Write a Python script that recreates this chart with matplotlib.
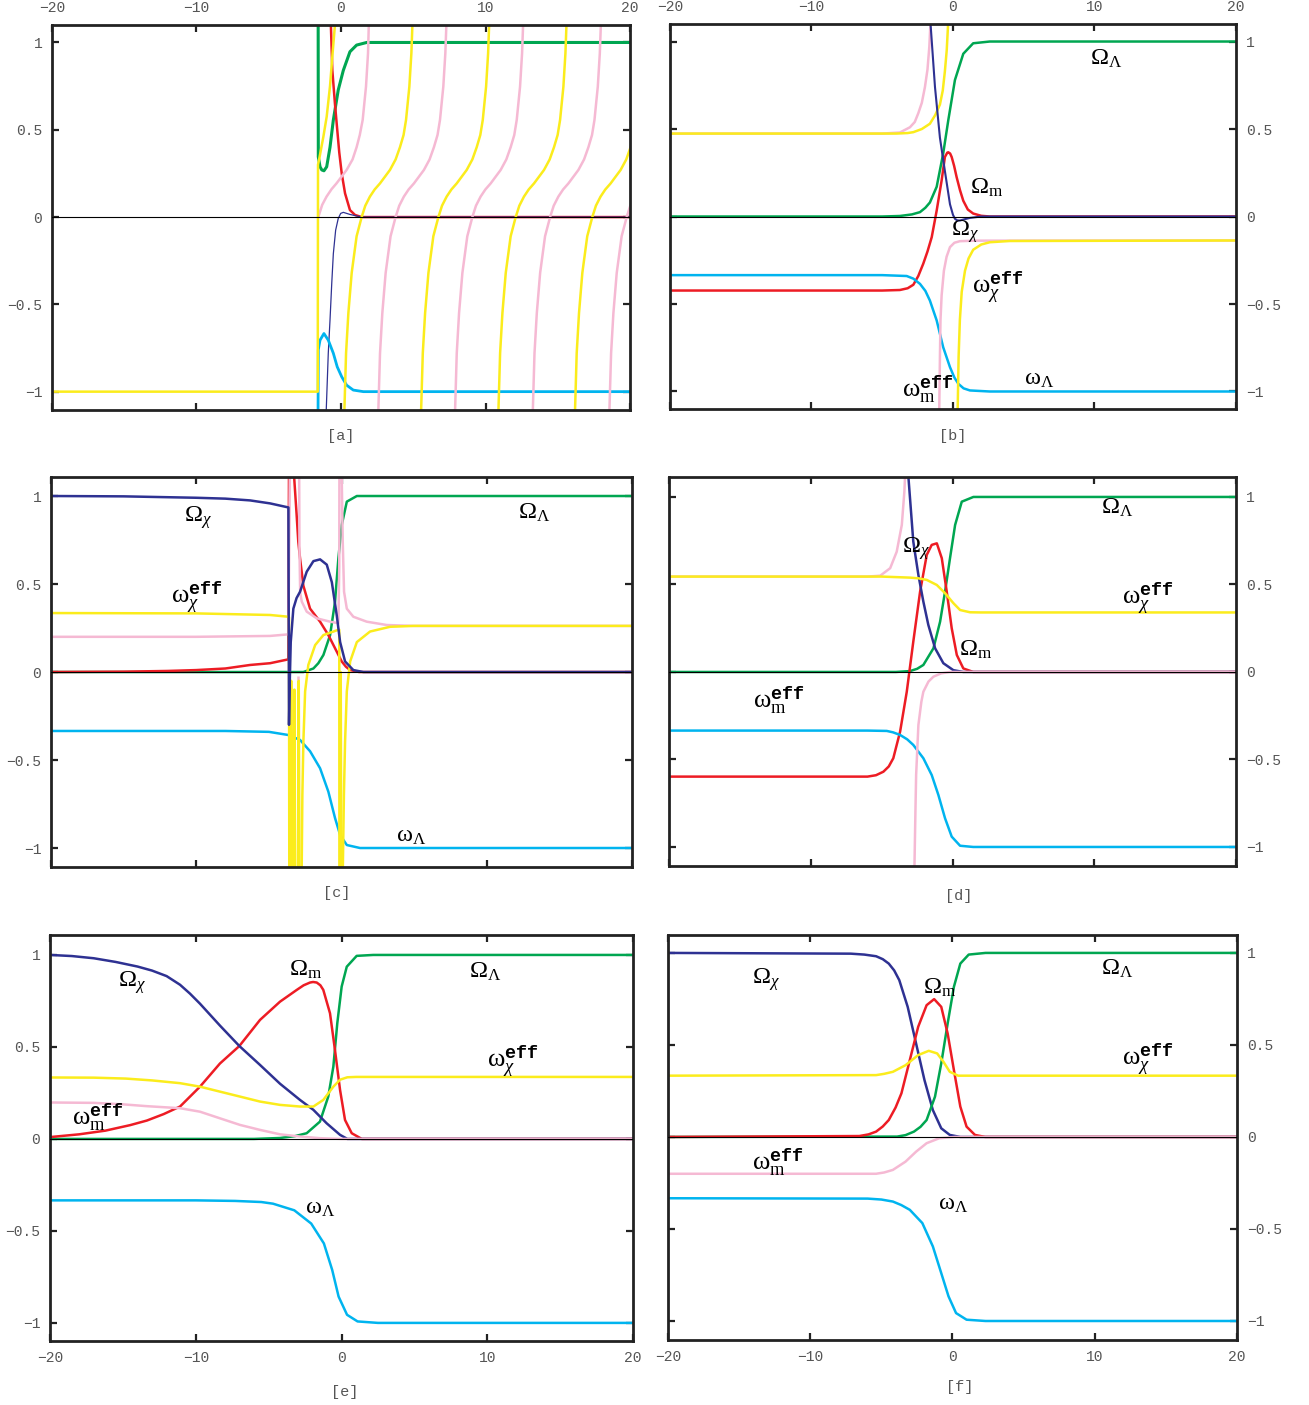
import numpy as np
import matplotlib
matplotlib.use("Agg")
import matplotlib.pyplot as plt

plt.rcParams["font.family"] = ["Liberation Serif", "DejaVu Serif"]
plt.rcParams["mathtext.fontset"] = "custom"
plt.rcParams["mathtext.rm"] = "Liberation Serif"
plt.rcParams["mathtext.it"] = "Liberation Serif:italic"
plt.rcParams["mathtext.bf"] = "Liberation Serif:bold"
plt.rcParams["mathtext.tt"] = "Liberation Mono:bold"

GREEN = "#00a651"
RED = "#ed1c24"
NAVY = "#2e3192"
CYAN = "#00b4ef"
YELLOW = "#fbec1c"
PINK = "#f5b9d3"
MONO = ["Liberation Mono", "DejaVu Sans Mono"]

# ---------------- panel a ----------------
a_green_x = [-1.58, -1.57, -1.45, -1.33, -1.18, -0.99, -0.76, -0.53, -0.19, 0.16, 0.62, 1.08, 1.78, 20]
a_green_y = [1.15, 0.345, 0.288, 0.27, 0.265, 0.288, 0.40, 0.556, 0.728, 0.84, 0.947, 0.985, 1.0, 1.0]
a_red_x = [-0.72, -0.6, -0.42, -0.26, -0.12, 0.05, 0.28, 0.62, 0.97, 1.43, 20]
a_red_y = [1.15, 0.842, 0.65, 0.5, 0.37, 0.25, 0.136, 0.04, 0.012, 0.0, 0.0]
a_navy_x = [-1.04, -0.88, -0.76, -0.64, -0.53, -0.37, -0.19, -0.02, 0.16, 0.62, 1.43, 20]
a_navy_y = [-1.15, -0.78, -0.59, -0.38, -0.21, -0.075, -0.008, 0.021, 0.027, 0.015, 0.0, 0.0]
a_cyan_x = [-1.59, -1.57, -1.45, -1.18, -0.88, -0.53, -0.26, 0.05, 0.39, 0.85, 1.55, 20]
a_cyan_y = [-1.15, -0.76, -0.705, -0.667, -0.705, -0.78, -0.858, -0.915, -0.963, -0.991, -1.0, -1.0]
a_yellow0_x = [-20, -1.61, -1.59, -1.5, -1.22, -0.99, -0.76, -0.58, -0.42]
a_yellow0_y = [-1.0, -1.0, 0.30, 0.336, 0.46, 0.575, 0.75, 0.94, 1.1]
a_pink0_x = [-1.57, -1.3, -1.0, -0.65, -0.31, 0.39, 0.8, 1.08, 1.3, 1.5, 1.73, 1.87, 1.93]
a_pink0_y = [0.0, 0.07, 0.117, 0.16, 0.193, 0.27, 0.33, 0.40, 0.47, 0.556, 0.747, 0.938, 1.12]
# one tan-like branch (offset from where it leaves the bottom)
branch_dx = [0, 0.12, 0.28, 0.51, 0.85, 1.2, 1.45, 1.77, 2.1, 2.47, 3.16, 3.55, 3.85, 4.1, 4.27,
             4.5, 4.64, 4.72]
branch_y = [-1.12, -0.78, -0.55, -0.32, -0.11, 0.0, 0.065, 0.117, 0.158, 0.193, 0.27, 0.33, 0.40,
            0.47, 0.556, 0.747, 0.938, 1.12]
a_yellow_starts = [0.23, 5.54, 10.89, 16.19]
a_pink_starts = [2.58, 7.89, 13.27, 18.57]

# ---------------- panel b ----------------
b_green_x = [-20, -5, -3.75, -2.9, -2.33, -1.95, -1.63, -1.15, -0.69, -0.33, 0.14, 0.73, 1.43, 2.6, 20]
b_green_y = [0, 0, 0.003, 0.012, 0.025, 0.05, 0.08, 0.17, 0.36, 0.55, 0.78, 0.93, 0.99, 1.0, 1.0]
b_red_x = [-20, -5, -3.75, -3.2, -2.8, -2.45, -2.1, -1.8, -1.5, -1.15, -0.8, -0.57, -0.4, -0.33,
           -0.2, -0.09, 0.08, 0.26, 0.5, 0.73, 1.05, 1.43, 2.0, 2.6, 20]
b_red_y = [-0.423, -0.423, -0.42, -0.41, -0.39, -0.34, -0.27, -0.2, -0.118, 0.034, 0.206, 0.34, 0.365,
           0.367, 0.36, 0.34, 0.29, 0.225, 0.15, 0.09, 0.04, 0.017, 0.004, 0, 0]
b_navy_x = [-1.6, -1.27, -0.92, -0.57, -0.21, 0.0, 0.14, 0.3, 0.49, 0.8, 1.2, 2.0, 20]
b_navy_y = [1.12, 0.74, 0.45, 0.26, 0.07, 0.01, -0.013, -0.022, -0.023, -0.016, -0.008, 0.0, 0.0]
b_cyan_x = [-20, -5, -3.27, -2.8, -2.33, -1.95, -1.63, -1.15, -0.69, -0.21, 0.1, 0.38, 0.75, 1.2, 2.6, 20]
b_cyan_y = [-0.335, -0.335, -0.34, -0.355, -0.385, -0.425, -0.48, -0.594, -0.747, -0.861, -0.92,
            -0.956, -0.982, -0.994, -1.0, -1.0]
b_yellow1_x = [-20, -4, -3.2, -2.8, -2.2, -1.63, -1.25, -0.92, -0.72, -0.57, -0.44, -0.33]
b_yellow1_y = [0.474, 0.474, 0.477, 0.482, 0.5, 0.53, 0.58, 0.64, 0.72, 0.83, 0.95, 1.12]
b_yellow2_x = [0.33, 0.4, 0.49, 0.62, 0.85, 1.1, 1.43, 2.0, 2.61, 4.0, 20]
b_yellow2_y = [-1.12, -0.8, -0.59, -0.43, -0.31, -0.24, -0.19, -0.16, -0.147, -0.14, -0.137]
b_pink1_x = [-20, -5, -3.75, -3.04, -2.7, -2.45, -2.2, -1.98, -1.8, -1.67, -1.58]
b_pink1_y = [0.474, 0.474, 0.48, 0.51, 0.54, 0.59, 0.65, 0.74, 0.84, 0.97, 1.12]
b_pink2_x = [-0.97, -0.92, -0.88, -0.8, -0.64, -0.45, -0.21, 0.1, 0.49, 1.5, 20]
b_pink2_y = [-1.12, -0.8, -0.59, -0.45, -0.31, -0.23, -0.175, -0.15, -0.141, -0.138, -0.137]

# ---------------- panel c ----------------
c_navy_x = [-20, -15, -10, -8, -6.3, -4.92, -3.66, -3.62, -3.58, -3.5, -3.32, -3.1, -2.86, -2.4,
            -1.94, -1.48, -1.02, -0.67, -0.33, -0.1, 0.24, 0.81, 1.5, 20]
c_navy_y = [1.0, 0.998, 0.99, 0.985, 0.975, 0.958, 0.935, -0.30, -0.1, 0.17, 0.36, 0.42, 0.456, 0.57,
            0.63, 0.64, 0.61, 0.51, 0.32, 0.17, 0.06, 0.011, 0.0, 0.0]
c_red1_x = [-20, -15, -12, -10, -8, -6.3, -4.92, -3.66, -3.62]
c_red1_y = [0.0, 0.002, 0.006, 0.011, 0.02, 0.04, 0.05, 0.072, 1.15]
c_red2_x = [-3.3, -3.1, -2.98, -2.86, -2.63, -2.17, -1.48, -0.91, -0.45, 0.01, 0.3, 0.59, 1.2, 20]
c_red2_y = [1.15, 0.9, 0.74, 0.646, 0.49, 0.36, 0.286, 0.21, 0.135, 0.06, 0.03, 0.011, 0.0, 0.0]
c_green_x = [-20, -3, -2.63, -1.94, -1.6, -1.25, -0.79, -0.45, -0.22, 0.01, 0.36, 1.05, 20]
c_green_y = [0, 0, 0.0, 0.02, 0.05, 0.097, 0.21, 0.40, 0.646, 0.835, 0.968, 1.0, 1.0]
c_cyan_x = [-20, -8, -5, -3.66, -2.86, -2.17, -1.48, -0.91, -0.45, -0.1, 0.36, 1.27, 20]
c_cyan_y = [-0.335, -0.335, -0.34, -0.358, -0.386, -0.45, -0.547, -0.68, -0.83, -0.926, -0.983, -1.0, -1.0]
c_yellow1_x = [-20, -10, -4.92, -3.66, -3.62, -3.6]
c_yellow1_y = [0.335, 0.333, 0.324, 0.314, 0.31, -1.15]
c_yellow_spk_x = [-3.5, -3.47, -3.42, -3.3, -3.25, -3.2, -3.0, -2.95, -2.9]
c_yellow_spk_y = [-1.15, -0.05, -1.15, -1.15, -0.1, -1.15, -1.15, -0.05, -1.15]
c_yellow2_x = [-2.75, -2.7, -2.63, -2.51, -2.29, -1.82, -1.25, -0.56, -0.22, -0.16, -0.15]
c_yellow2_y = [-1.15, -0.7, -0.396, -0.11, 0.04, 0.153, 0.21, 0.23, 0.24, 0.24, -1.15]
c_yellow3_x = [-0.1, -0.06, -0.02]
c_yellow3_y = [-1.15, 0.0, -1.15]
c_yellow4_x = [0.08, 0.16, 0.24, 0.36, 0.59, 1.05, 1.96, 3.34, 5, 20]
c_yellow4_y = [-1.15, -0.7, -0.396, -0.11, 0.06, 0.17, 0.23, 0.257, 0.262, 0.262]
c_pink1_x = [-20, -10, -4.92, -3.66, -3.56]
c_pink1_y = [0.2, 0.2, 0.205, 0.214, 1.15]
c_pink_spk_x = [-3.56, -3.55]
c_pink_spk_y = [-1.15, -0.7]
c_pink_spk2_x = [-3.0, -3.0]
c_pink_spk2_y = [-0.02, -0.26]
c_pink2_x = [-2.92, -2.9, -2.85, -2.74, -2.4, -1.71, -0.79, -0.22, -0.16, -0.15]
c_pink2_y = [1.15, 0.7, 0.45, 0.40, 0.343, 0.305, 0.286, 0.277, 0.6, 1.15]
c_pink3_x = [0.0, 0.05, 0.08, 0.17, 0.36, 0.81, 1.73, 3.11, 5, 20]
c_pink3_y = [1.15, 0.9, 0.74, 0.456, 0.36, 0.314, 0.286, 0.267, 0.262, 0.262]

# ---------------- panel d ----------------
d_yellow_x = [-20, -5, -3.0, -2.4, -1.82, -1.11, -0.53, 0.06, 0.53, 1.23, 2, 20]
d_yellow_y = [0.545, 0.545, 0.539, 0.535, 0.526, 0.497, 0.45, 0.393, 0.354, 0.341, 0.34, 0.34]
d_pink1_x = [-20, -6, -5.1, -4.4, -3.94, -3.58, -3.4, -3.35]
d_pink1_y = [0.545, 0.545, 0.55, 0.593, 0.687, 0.84, 1.03, 1.12]
d_pink2_x = [-2.69, -2.62, -2.57, -2.41, -2.2, -2.06, -1.7, -1.35, -0.8, -0.18, 20]
d_pink2_y = [-1.12, -0.8, -0.589, -0.303, -0.17, -0.113, -0.055, -0.027, -0.008, 0.0, 0.0]
d_navy_x = [-3.12, -2.77, -2.41, -2.06, -1.71, -1.23, -0.65, 0.06, 0.76, 20]
d_navy_y = [1.12, 0.745, 0.554, 0.402, 0.269, 0.135, 0.05, 0.01, 0.0, 0.0]
d_red_x = [-20, -6, -5.4, -4.88, -4.5, -4.18, -3.7, -3.23, -2.77, -2.29, -1.82, -1.47, -1.11, -0.76,
           -0.41, -0.06, 0.3, 0.76, 1.46, 20]
d_red_y = [-0.598, -0.598, -0.59, -0.57, -0.54, -0.493, -0.341, -0.113, 0.173, 0.459, 0.669, 0.726,
           0.735, 0.65, 0.459, 0.25, 0.097, 0.02, 0.0, 0.0]
d_green_x = [-20, -4, -3.0, -2.5, -2.06, -1.35, -0.88, -0.53, -0.18, 0.18, 0.65, 1.47, 20]
d_green_y = [0, 0, 0.005, 0.018, 0.04, 0.135, 0.287, 0.459, 0.65, 0.84, 0.973, 1.0, 1.0]
d_cyan_x = [-20, -6, -4.64, -4.2, -3.7, -3.2, -2.77, -2.06, -1.47, -1.0, -0.53, -0.06, 0.53, 1.46, 20]
d_cyan_y = [-0.335, -0.335, -0.337, -0.345, -0.36, -0.385, -0.417, -0.493, -0.589, -0.703, -0.836,
            -0.941, -0.993, -1.0, -1.0]

# ---------------- panel e ----------------
e_navy_x = [-20, -18.5, -17, -15.5, -14, -13, -12, -11.08, -10.4, -9.71, -8.34, -7.01, -5.59, -4.22,
            -2.85, -1.93, -1.02, -0.1, 0.4, 20]
e_navy_y = [1.0, 0.994, 0.982, 0.962, 0.937, 0.915, 0.885, 0.838, 0.79, 0.735, 0.616, 0.505, 0.402,
            0.30, 0.212, 0.158, 0.085, 0.022, 0.0, 0.0]
e_red_x = [-20, -18, -16.2, -14.5, -13.35, -12.2, -11.08, -9.71, -8.34, -7.01, -5.59, -4.22, -3.07,
           -2.6, -2.16, -1.95, -1.7, -1.45, -1.25, -0.79, -0.45, -0.1, 0.24, 0.7, 1.39, 20]
e_red_y = [0.01, 0.025, 0.045, 0.075, 0.10, 0.135, 0.176, 0.284, 0.41, 0.505, 0.647, 0.746, 0.81,
           0.835, 0.85, 0.853, 0.85, 0.835, 0.81, 0.683, 0.484, 0.266, 0.103, 0.031, 0.0, 0.0]
e_green_x = [-20, -6, -4.22, -3.2, -2.39, -1.48, -0.91, -0.56, -0.29, 0.01, 0.36, 1.04, 2.18, 20]
e_green_y = [0, 0, 0.005, 0.015, 0.031, 0.094, 0.23, 0.393, 0.629, 0.828, 0.936, 0.995, 1.0, 1.0]
e_yellow_x = [-20, -17, -14.8, -13, -11.08, -9.71, -8.34, -6.96, -5.59, -4.22, -2.85, -1.93, -1.25,
              -0.56, -0.1, 0.4, 1.0, 20]
e_yellow_y = [0.334, 0.333, 0.328, 0.318, 0.303, 0.284, 0.257, 0.23, 0.203, 0.185, 0.176, 0.176,
              0.212, 0.284, 0.322, 0.335, 0.337, 0.337]
e_pink_x = [-20, -17, -15, -13.35, -11.08, -9.71, -8.34, -6.96, -5.59, -4.22, -2.85, -1.48, 0, 20]
e_pink_y = [0.198, 0.196, 0.188, 0.178, 0.167, 0.148, 0.112, 0.076, 0.049, 0.025, 0.013, 0.004, 0, 0]
e_cyan_x = [-20, -10, -7.3, -5.5, -4.7, -3.24, -2.08, -1.21, -0.64, -0.2, 0.38, 1.1, 2.5, 20]
e_cyan_y = [-0.334, -0.334, -0.337, -0.343, -0.352, -0.388, -0.46, -0.568, -0.712, -0.857, -0.956,
            -0.992, -1.0, -1.0]

# ---------------- panel f ----------------
f_navy_x = [-20, -7.15, -6.2, -5.37, -4.9, -4.48, -4.1, -3.74, -3.15, -2.56, -1.97, -1.38, -0.79,
            -0.19, 0.55, 20]
f_navy_y = [1.0, 0.996, 0.991, 0.982, 0.966, 0.942, 0.905, 0.852, 0.707, 0.508, 0.309, 0.146, 0.047,
            0.011, 0.0, 0.0]
f_red_x = [-20, -6.55, -5.9, -5.37, -4.9, -4.48, -4.0, -3.59, -3.0, -2.41, -1.82, -1.29, -0.79,
           -0.34, 0.1, 0.55, 0.99, 1.58, 2.3, 20]
f_red_y = [0, 0.005, 0.014, 0.029, 0.057, 0.092, 0.16, 0.237, 0.418, 0.599, 0.716, 0.749, 0.707,
           0.562, 0.363, 0.165, 0.056, 0.011, 0, 0]
f_green_x = [-20, -3.89, -3.3, -2.71, -2.25, -1.82, -1.23, -0.79, -0.34, 0.1, 0.55, 1.14, 2.32, 20]
f_green_y = [0, 0.002, 0.01, 0.029, 0.055, 0.092, 0.219, 0.40, 0.617, 0.816, 0.942, 0.991, 1.0, 1.0]
f_yellow_x = [-20, -5.37, -4.8, -4.19, -3.3, -2.41, -1.67, -1.08, -0.64, -0.19, 0.4, 20]
f_yellow_y = [0.333, 0.336, 0.343, 0.354, 0.39, 0.445, 0.468, 0.454, 0.409, 0.354, 0.333, 0.333]
f_pink_x = [-20, -5.37, -4.8, -4.19, -3.3, -2.56, -1.82, -0.93, 0.2, 20]
f_pink_y = [-0.2, -0.2, -0.193, -0.179, -0.134, -0.08, -0.034, -0.007, 0, 0]
f_cyan_x = [-20, -5.96, -5.0, -4.19, -3.6, -3.0, -2.12, -1.38, -0.79, -0.28, 0.25, 0.99, 2.32, 20]
f_cyan_y = [-0.333, -0.335, -0.34, -0.351, -0.37, -0.396, -0.468, -0.595, -0.74, -0.866, -0.957,
            -0.993, -1.0, -1.0]

x_ticks = [-20, -10, 0, 10, 20]
x_tick_labels = ["\u221220", "\u221210", "0", "10", "20"]
y_ticks = [-1, -0.5, 0, 0.5, 1]
y_tick_labels = ["\u22121", "\u22120.5", "0", "0.5", "1"]

fig = plt.figure(figsize=(13.09, 14.05), dpi=100)

# [left, bottom, width, height], which side carries labels, caption position, y range
panels = {
    "a": ([0.0397, 0.7082, 0.4416, 0.2740], "top", "left", (0.50, -0.068), (-1.105, 1.10)),
    "b": ([0.5118, 0.7089, 0.4324, 0.2740], "top", "right", (0.50, -0.07), (-1.10, 1.10)),
    "c": ([0.0390, 0.3829, 0.4439, 0.2776], None, "left", (0.492, -0.067), (-1.108, 1.108)),
    "d": ([0.5111, 0.3836, 0.4332, 0.2769], None, "right", (0.51, -0.077), (-1.109, 1.114)),
    "e": ([0.0382, 0.0456, 0.4454, 0.2890], "bottom", "left", (0.506, -0.126), (-1.098, 1.109)),
    "f": ([0.5103, 0.0463, 0.4347, 0.2883], "bottom", "right", (0.513, -0.116), (-1.103, 1.098)),
}

axes = {}
for name, (rect, xside, yside, cap, ylim) in panels.items():
    ax = fig.add_axes(rect)
    ax.set_xlim(-20, 20)
    ax.set_ylim(*ylim)
    ax.set_xticks(x_ticks)
    ax.set_yticks(y_ticks)
    ax.tick_params(direction="in", length=5, width=1.6, top=True, bottom=True, left=True, right=True,
                   labeltop=(xside == "top"), labelbottom=(xside == "bottom"),
                   labelleft=(yside == "left"), labelright=(yside == "right"),
                   pad=7, labelsize=10.5)
    ax.tick_params(colors="#222222", which="both", labelcolor="#555555")
    ax.set_xticklabels(x_tick_labels, family=MONO)
    ax.set_yticklabels(y_tick_labels, family=MONO)
    for s in ax.spines.values():
        s.set_linewidth(2.0)
        s.set_color("#222222")
    ax.text(cap[0], cap[1], "[" + name + "]", transform=ax.transAxes, ha="center", va="center",
            family=MONO, fontsize=11, color="#555555")
    axes[name] = ax

LW = 1.8


def curve(ax, x, y, color, lw=LW, z=2):
    ax.plot(x, y, color=color, lw=lw, zorder=z, solid_capstyle="butt", solid_joinstyle="round")


def label(ax, x, y, sym, sub, eff=False):
    # (x, y): left edge and visual middle of the main glyph
    s = "$\\mathrm{" + sym + "}_{" + sub + "}"
    if eff:
        s += "^{\\mathtt{eff}}"
    s += "$"
    drop = -6 if sym == OMEGA else -4.5
    ax.annotate(s, (x, y), xytext=(0, drop), textcoords="offset points",
                fontsize=19 if eff else 17.5, ha="left", va="baseline", zorder=6)


OMEGA = "\u03a9"
omega = "\u03c9"
LAM = "\\Lambda"
CHI = "\\chi"
M = "\\mathrm{m}"

# panel a
ax = axes["a"]
curve(ax, a_green_x, a_green_y, GREEN, lw=2.2)
curve(ax, a_red_x, a_red_y, RED)
curve(ax, a_navy_x, a_navy_y, NAVY, lw=0.9)
curve(ax, a_cyan_x, a_cyan_y, CYAN, lw=2.0)
curve(ax, a_pink0_x, a_pink0_y, PINK)
for x0 in a_pink_starts:
    curve(ax, np.add(branch_dx, x0), branch_y, PINK)
curve(ax, a_yellow0_x, a_yellow0_y, YELLOW)
for x0 in a_yellow_starts:
    curve(ax, np.add(branch_dx, x0), branch_y, YELLOW)

# panel b
ax = axes["b"]
curve(ax, b_green_x, b_green_y, GREEN)
curve(ax, b_red_x, b_red_y, RED)
curve(ax, b_cyan_x, b_cyan_y, CYAN)
curve(ax, b_pink1_x, b_pink1_y, PINK)
curve(ax, b_pink2_x, b_pink2_y, PINK)
curve(ax, b_yellow1_x, b_yellow1_y, YELLOW)
curve(ax, b_yellow2_x, b_yellow2_y, YELLOW)
curve(ax, b_navy_x, b_navy_y, NAVY, lw=1.5)
label(ax, 9.68, 0.914, OMEGA, LAM)
label(ax, 1.2, 0.177, OMEGA, M)
label(ax, -0.14, -0.063, OMEGA, CHI)
label(ax, 1.34, -0.406, omega, CHI, eff=True)
label(ax, -3.6, -0.994, omega, M, eff=True)
label(ax, 5.02, -0.926, omega, LAM)

# panel c
ax = axes["c"]
curve(ax, c_green_x, c_green_y, GREEN)
curve(ax, c_red1_x, c_red1_y, RED)
curve(ax, c_red2_x, c_red2_y, RED)
curve(ax, c_cyan_x, c_cyan_y, CYAN)
curve(ax, c_pink1_x, c_pink1_y, PINK)
curve(ax, c_pink_spk_x, c_pink_spk_y, PINK)
curve(ax, c_pink_spk2_x, c_pink_spk2_y, PINK)
curve(ax, c_pink2_x, c_pink2_y, PINK)
curve(ax, c_pink3_x, c_pink3_y, PINK)
curve(ax, c_yellow1_x, c_yellow1_y, YELLOW)
curve(ax, c_yellow_spk_x, c_yellow_spk_y, YELLOW)
curve(ax, c_yellow2_x, c_yellow2_y, YELLOW)
curve(ax, c_yellow3_x, c_yellow3_y, YELLOW)
curve(ax, c_yellow4_x, c_yellow4_y, YELLOW)
curve(ax, c_navy_x, c_navy_y, NAVY)
label(ax, -10.84, 0.903, OMEGA, CHI)
label(ax, 12.15, 0.92, OMEGA, LAM)
label(ax, -11.74, 0.42, omega, CHI, eff=True)
label(ax, 3.75, -0.93, omega, LAM)

# panel d
ax = axes["d"]
curve(ax, d_green_x, d_green_y, GREEN)
curve(ax, d_red_x, d_red_y, RED)
curve(ax, d_navy_x, d_navy_y, NAVY)
curve(ax, d_cyan_x, d_cyan_y, CYAN)
curve(ax, d_pink1_x, d_pink1_y, PINK)
curve(ax, d_pink2_x, d_pink2_y, PINK)
curve(ax, d_yellow_x, d_yellow_y, YELLOW)
label(ax, 10.48, 0.954, OMEGA, LAM)
label(ax, -3.56, 0.73, OMEGA, CHI)
label(ax, 11.96, 0.42, omega, CHI, eff=True)
label(ax, 0.46, 0.143, OMEGA, M)
label(ax, -14.1, -0.17, omega, M, eff=True)

# panel e
ax = axes["e"]
curve(ax, e_green_x, e_green_y, GREEN)
curve(ax, e_red_x, e_red_y, RED)
curve(ax, e_navy_x, e_navy_y, NAVY)
curve(ax, e_cyan_x, e_cyan_y, CYAN)
curve(ax, e_pink_x, e_pink_y, PINK)
curve(ax, e_yellow_x, e_yellow_y, YELLOW)
label(ax, -15.33, 0.87, OMEGA, CHI)
label(ax, -3.6, 0.935, OMEGA, M)
label(ax, 8.75, 0.924, OMEGA, LAM)
label(ax, 9.98, 0.418, omega, CHI, eff=True)
label(ax, -18.49, 0.109, omega, M, eff=True)
label(ax, -2.5, -0.375, omega, LAM)

# panel f
ax = axes["f"]
curve(ax, f_navy_x, f_navy_y, NAVY)
curve(ax, f_green_x, f_green_y, GREEN)
curve(ax, f_red_x, f_red_y, RED)
curve(ax, f_cyan_x, f_cyan_y, CYAN)
curve(ax, f_pink_x, f_pink_y, PINK)
curve(ax, f_yellow_x, f_yellow_y, YELLOW)
label(ax, -14.1, 0.88, OMEGA, CHI)
label(ax, -2.07, 0.826, OMEGA, M)
label(ax, 10.44, 0.929, OMEGA, LAM)
label(ax, 11.92, 0.418, omega, CHI, eff=True)
label(ax, -14.1, -0.147, omega, M, eff=True)
label(ax, -1.0, -0.364, omega, LAM)

for ax in axes.values():
    ax.axhline(0, color="black", lw=0.8, zorder=3)

fig.savefig("out.png", dpi=100)
